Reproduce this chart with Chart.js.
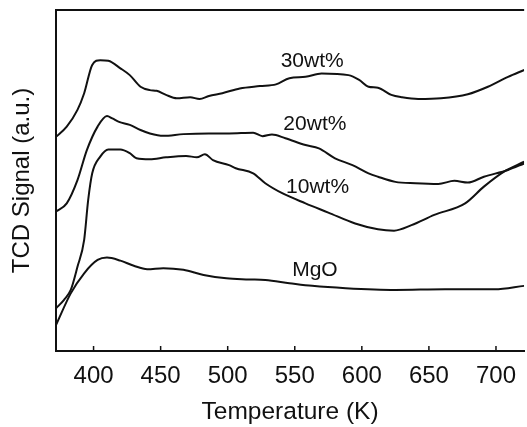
<!DOCTYPE html>
<html>
<head>
<meta charset="utf-8">
<script src="https://cdn.jsdelivr.net/npm/chart.js@4.4.0/dist/chart.umd.min.js"></script>
<style>
html, body { margin: 0; padding: 0; background: #fff; }
canvas { display: block; }
</style>
</head>
<body>
<canvas id="chart" width="527" height="427"></canvas>
<script>
// TPD (CO2) curves, signal in arbitrary units
const t30 = [372, 380, 388, 393, 399, 405, 411, 420, 427, 435, 442, 447, 454, 462, 472, 479, 486, 496, 509, 524, 536, 546, 558, 570, 590, 598, 605, 612, 622, 630, 642, 659, 679, 694, 709, 721];
const s30 = [62.8, 65.8, 70.7, 75.6, 83.9, 85.3, 85.1, 82.9, 80.9, 77.5, 76.5, 76.3, 75.1, 74.1, 74.4, 73.9, 74.8, 75.6, 77.0, 77.7, 78.2, 80.0, 80.4, 81.4, 80.9, 79.5, 77.5, 77.2, 75.1, 74.4, 73.9, 74.1, 75.3, 77.5, 80.4, 82.4];

const t20 = [372, 380, 388, 395, 403, 410, 414, 419, 427, 435, 442, 452, 467, 486, 501, 519, 526, 533, 543, 558, 568, 580, 593, 605, 612, 625, 640, 657, 669, 679, 691, 709, 721];
const s20 = [40.9, 43.3, 50.1, 58.9, 65.8, 68.9, 68.2, 67.2, 66.3, 64.8, 63.8, 63.1, 63.6, 63.8, 63.8, 64.0, 63.0, 63.5, 62.4, 60.4, 59.4, 56.5, 54.5, 52.1, 51.1, 49.6, 49.2, 49.0, 49.9, 49.4, 51.1, 53.1, 55.0];

const t10 = [372, 378, 383, 388, 393, 396, 399, 405, 411, 420, 427, 432, 442, 454, 469, 477, 483, 489, 501, 506, 519, 528, 541, 558, 575, 595, 612, 624, 637, 654, 677, 691, 706, 721];
const s10 = [12.5, 15.0, 17.9, 24.7, 32.6, 44.3, 52.1, 57.0, 59.1, 59.1, 58.0, 56.5, 56.2, 56.8, 57.2, 56.8, 57.7, 56.0, 54.5, 53.6, 52.1, 49.2, 46.2, 43.3, 40.6, 37.4, 35.7, 35.3, 36.9, 39.9, 43.3, 48.2, 52.6, 55.5];

const tMgO = [372, 383, 393, 403, 410, 420, 430, 440, 452, 467, 482, 499, 516, 528, 546, 563, 588, 625, 662, 699, 721];
const sMgO = [7.6, 16.9, 22.8, 26.7, 27.4, 26.5, 25.0, 24.0, 24.3, 23.8, 22.3, 21.3, 21.0, 20.8, 19.9, 19.1, 18.4, 17.9, 18.1, 18.1, 19.1];

const xTicks = [400, 450, 500, 550, 600, 650, 700];

// curve labels, placed in data units
const curveLabels = [
  { text: '30wt%', x: 563, y: 85.0 },
  { text: '20wt%', x: 565, y: 66.6 },
  { text: '10wt%', x: 567, y: 48.1 },
  { text: 'MgO', x: 565, y: 23.6 }
];

const FONT = '"Liberation Sans", Arial, Helvetica, sans-serif';
const INK = '#111';

function pts(ts, vs) {
  return ts.map((t, i) => ({ x: t, y: vs[i] }));
}

function line(label, ts, vs) {
  return {
    label: label,
    data: pts(ts, vs),
    borderColor: INK,
    borderWidth: 2,
    pointRadius: 0,
    fill: false,
    cubicInterpolationMode: 'monotone'
  };
}

const framePlugin = {
  id: 'frame',
  afterDraw(chart) {
    const { ctx, chartArea, scales } = chart;
    ctx.save();
    ctx.strokeStyle = INK;
    ctx.lineWidth = 2;
    ctx.beginPath();
    ctx.moveTo(chartArea.left, chartArea.top);
    ctx.lineTo(chartArea.right, chartArea.top);
    ctx.stroke();

    // ticks point inward
    ctx.lineWidth = 1.5;
    ctx.beginPath();
    for (const t of xTicks) {
      const px = scales.x.getPixelForValue(t);
      ctx.moveTo(px, chartArea.bottom);
      ctx.lineTo(px, chartArea.bottom - 5);
    }
    ctx.stroke();

    ctx.fillStyle = INK;
    ctx.font = '21px ' + FONT;
    ctx.textAlign = 'center';
    ctx.textBaseline = 'middle';
    for (const l of curveLabels) {
      ctx.fillText(l.text, scales.x.getPixelForValue(l.x), scales.y.getPixelForValue(l.y));
    }
    ctx.restore();
  }
};

const ctx = document.getElementById('chart').getContext('2d');
new Chart(ctx, {
  type: 'line',
  data: {
    datasets: [
      line('30wt%', t30, s30),
      line('20wt%', t20, s20),
      line('10wt%', t10, s10),
      line('MgO', tMgO, sMgO)
    ]
  },
  options: {
    responsive: false,
    animation: false,
    devicePixelRatio: 1,
    layout: { padding: { top: 10, right: 0, bottom: 0, left: 0 } },
    plugins: {
      legend: { display: false },
      tooltip: { enabled: false }
    },
    scales: {
      x: {
        type: 'linear',
        min: 372,
        max: 721,
        afterBuildTicks: s => { s.ticks = xTicks.map(v => ({ value: v })); },
        afterFit: s => { s.height = 76; },
        grid: { drawOnChartArea: false, drawTicks: false },
        border: { display: true, color: INK, width: 2 },
        ticks: {
          color: INK,
          padding: 11,
          maxRotation: 0,
          font: { family: FONT, size: 24 }
        },
        title: {
          display: true,
          text: 'Temperature (K)',
          color: INK,
          padding: { top: 0, bottom: 0 },
          font: { family: FONT, size: 24.5 }
        }
      },
      y: {
        type: 'linear',
        min: 0,
        max: 100,
        afterFit: s => { s.width = 56; },
        grid: { drawOnChartArea: false, drawTicks: false },
        border: { display: true, color: INK, width: 2 },
        ticks: { display: false },
        title: {
          display: true,
          text: 'TCD Signal (a.u.)',
          color: INK,
          padding: { top: 8, bottom: 0 },
          font: { family: FONT, size: 24 }
        }
      }
    }
  },
  plugins: [framePlugin]
});
</script>
</body>
</html>
